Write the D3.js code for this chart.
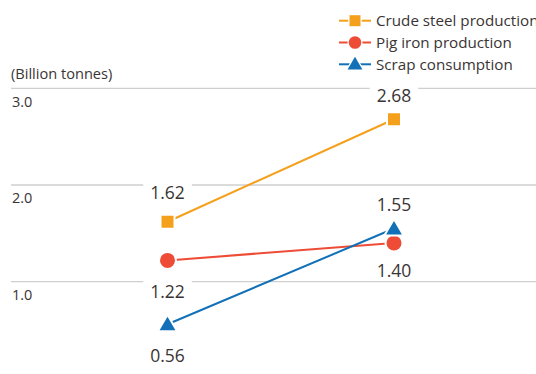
<!DOCTYPE html>
<html>
<head>
<meta charset="utf-8">
<script src="https://cdn.jsdelivr.net/npm/d3@7"></script>
<style>
  html, body { margin: 0; padding: 0; background: #fff; }
  svg { display: block; }
  text { font-family: "Open Sans", "Noto Sans", sans-serif; fill: #3a3434; }
</style>
</head>
<body>
<svg id="chart" width="536" height="374"></svg>
<script>
// Two time points, three series (billion tonnes)
const categories = ["Period A", "Period B"];
const seriesNames = ["Crude steel production", "Pig iron production", "Scrap consumption"];
const crudeSteel = [1.62, 2.68];
const pigIron = [1.22, 1.40];
const scrap = [0.56, 1.55];
const yTicks = [1.0, 2.0, 3.0];
const unitLabel = "(Billion tonnes)";

// Presentation settings for each series
const styles = [
  { color: "#f5a01c", symbol: d3.symbolSquare, size: 144, labelDy: [-22.5, -17.5] },
  { color: "#ee4c36", symbol: d3.symbolCircle, size: 177, labelDy: [37.3, 33.7] },
  { color: "#1170b7", symbol: d3.symbolTriangle, size: 108, labelDy: [37.5, -17.8] }
];
const series = [crudeSteel, pigIron, scrap].map((values, i) => ({
  name: seriesNames[i], values, ...styles[i]
}));

const svg = d3.select("#chart");
const W = 536;

const x = d3.scalePoint().domain(categories).range([167.5, 394]);
const y = d3.scaleLinear().domain([0, 3]).range([378.4, 88.3]);

// Horizontal gridlines with tick labels underneath
const grid = svg.append("g");
grid.selectAll("line").data(yTicks).join("line")
  .attr("x1", 11).attr("x2", W)
  .attr("y1", d => y(d)).attr("y2", d => y(d))
  .attr("stroke", "#cfcfcf").attr("stroke-width", 1.3);
grid.selectAll("text").data(yTicks).join("text")
  .attr("x", 12).attr("y", d => y(d) + 18.4)
  .attr("font-size", 14.5)
  .text(d3.format(".1f"));

svg.append("text")
  .attr("x", 11).attr("y", 79)
  .attr("font-size", 14.6)
  .text(unitLabel);

// Value labels sit on white boxes that interrupt the gridlines
const labelLayer = svg.append("g");
const markLayer = svg.append("g");

const line = d3.line().x((d, i) => x(categories[i])).y(d => y(d));

series.forEach(s => {
  markLayer.append("path")
    .attr("d", line(s.values))
    .attr("fill", "none")
    .attr("stroke", s.color)
    .attr("stroke-width", 2);
});

series.forEach(s => {
  const sym = d3.symbol().type(s.symbol).size(s.size);
  markLayer.selectAll(null).data(s.values).join("path")
    .attr("transform", (d, i) => {
      const cy = y(d) + (s.symbol === d3.symbolTriangle ? 1.5 : 0);
      return `translate(${x(categories[i])},${cy})`;
    })
    .attr("d", sym())
    .attr("fill", s.color)
    .attr("stroke", "#fff")
    .attr("stroke-width", 4)
    .attr("paint-order", "stroke");

  s.values.forEach((v, i) => {
    const g = labelLayer.append("g");
    const t = g.append("text")
      .attr("x", x(categories[i]))
      .attr("y", y(v) + s.labelDy[i])
      .attr("text-anchor", "middle")
      .attr("font-size", 17.5)
      .text(d3.format(".2f")(v));
    const bb = t.node().getBBox();
    g.insert("rect", "text")
      .attr("x", bb.x - 7).attr("y", y(v) + s.labelDy[i] - 17.5)
      .attr("width", bb.width + 14).attr("height", 21)
      .attr("fill", "#fff");
  });
});

// Legend, top right
const legend = svg.append("g");
series.forEach((s, i) => {
  const cy = 20.7 + i * 21.8;
  const row = legend.append("g");
  row.append("line").attr("x1", 339).attr("x2", 371).attr("y1", cy).attr("y2", cy)
    .attr("stroke", s.color).attr("stroke-width", 2);
  const small = s.symbol === d3.symbolCircle ? 125 : s.symbol === d3.symbolSquare ? 121 : 95;
  row.append("path")
    .attr("transform", `translate(355,${cy + (s.symbol === d3.symbolTriangle ? 1 : 0)})`)
    .attr("d", d3.symbol().type(s.symbol).size(small)())
    .attr("fill", s.color)
    .attr("stroke", "#fff").attr("stroke-width", 2.5)
    .attr("paint-order", "stroke");
  row.append("text")
    .attr("x", 376).attr("y", cy + 5.6)
    .attr("font-size", 15.2)
    .text(s.name);
});
</script>
</body>
</html>
